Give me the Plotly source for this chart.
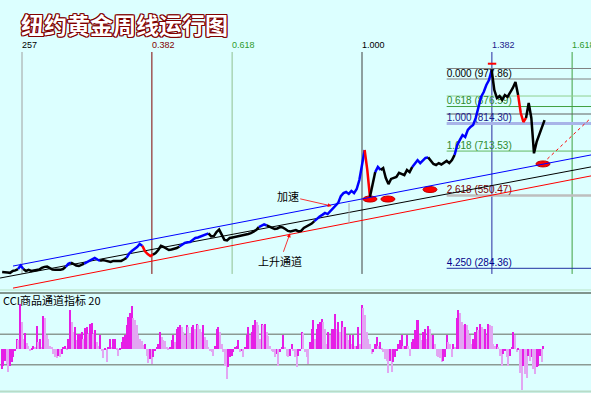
import plotly.graph_objects as go

# ---------------- data ----------------
# weekly gold price (USD), one value every 2 weeks, week index = 2*i
price_close = [
    269, 269, 267, 266, 273, 275, 280, 293, 280, 273,
    277, 273, 275, 277, 278, 284, 288, 289, 282, 278,
    277, 277, 277, 280, 288, 299, 304, 297, 293, 291,
    295, 300, 306, 311, 317, 321, 315, 310, 313, 311,
    308, 306, 310, 310, 311, 310, 315, 321, 337, 346,
    352, 361, 372, 365, 345, 335, 328, 333, 339, 350,
    365, 361, 355, 350, 352, 354, 357, 363, 370, 376,
    378, 379, 387, 394, 396, 400, 405, 409, 411, 400,
    401, 416, 425, 403, 387, 385, 394, 396, 398, 400,
    401, 403, 405, 409, 412, 418, 423, 434, 440, 444,
    440, 434, 431, 427, 429, 434, 433, 427, 420, 418,
    420, 423, 418, 420, 431, 436, 440, 447, 456, 466,
    473, 479, 486, 482, 493, 504, 515, 523, 548, 559,
    563, 556, 567, 559, 574, 607, 662, 717, 644, 545,
    596, 636, 655, 644, 651, 614, 592, 611, 614, 618,
    633, 629, 625, 644, 636, 655, 669, 680, 669, 677,
    688, 690, 677, 666, 662, 669, 664, 669, 677, 669,
    680, 699, 736, 754, 772, 765, 791, 802, 809, 835,
    871, 912, 930, 956, 974, 1011, 938, 908, 915, 901,
    919, 912, 927, 945, 967, 919, 853, 820, 835, 890,
    835, 705, 747, 776, 798, 827,
]
peak_high_week = [370.3]
peak_high_price = [1034]

# CCI(20) values
cci_values = [
    -128, -106, -73, -95, -145, -106, -84, -51, -7, 70,
    59, 297, 180, 70, 110, 44, 22, -7, 9, 26,
    15, 154, 48, 70, 15, 218, 202, 92, 70, 26,
    15, -29, -51, -57, -40, -51, -29, 15, 26, 4,
    70, 257, 180, 114, 147, 59, 103, 103, 114, 70,
    141, 147, 103, 163, 174, 103, 125, 48, 26, 92,
    -7, -57, 4, -79, 15, 70, 15, 70, 70, 4,
    -40, 4, 48, 81, 92, 158, 213, 235, 284, 202,
    191, 158, 92, 70, 53, 31, 37, -40, -88, -62,
    -95, -51, -7, 15, 37, 114, 81, 59, 53, 15,
    4, 15, 59, 92, 48, 136, 147, 158, 147, 114,
    92, 158, 147, 103, 147, 158, 136, 169, 158, 136,
    114, 158, 81, 59, 15, -7, -18, -40, 26, 136,
    147, 114, 37, -18, -106, -189, -117, -51, -40, -18,
    15, 26, 59, -18, -7, -51, 15, 92, 147, 92,
    114, 158, 191, 180, 158, 70, 163, 158, 169, 114,
    88, 26, -7, -18, -51, -29, -106, -18, 15, 97,
    15, -40, -51, -40, 37, -7, -51, -117, -40, -7,
    114, 110, -18, -51, -95, 48, 136, 191, 70, 136,
    163, 180, 198, 176, 136, 37, 114, 92, 136, 136,
    229, 136, 180, 114, 185, 147, 147, 92, 59, 97,
    37, 92, 26, 26, 147, 37, 290, 268, 224, 114,
    70, 37, -29, -18, 37, 81, 26, 48, 4, -18,
    -62, -73, -150, -73, -145, -84, -51, -7, 37, 59,
    92, 22, 26, 92, 26, -40, 48, 70, 125, 191,
    191, 92, 59, 114, 136, 70, 154, 136, 92, 97,
    37, -40, -51, -57, -84, -73, -51, 92, 48, 37,
    -51, 37, 15, 202, 257, 235, 180, 158, 169, 158,
    125, 92, 37, 70, 114, 147, 125, 169, 147, 136,
    136, 92, 163, 158, 154, 37, 26, 37, 15, -40,
    -106, -29, -7, -51, -106, -40, 15, 114, 92, -18,
    4, -150, -266, -106, -161, -183, -40, -73, -51, -128,
    -161, -117, -106, -40, -84, 26,
]
cci_levels = [100, -100]

# Fibonacci time zones
time_zone_start = 15
time_zone_weeks = 257
time_ratios = [0.0, 0.382, 0.618, 1.0, 1.382, 1.618]
time_labels = ["257", "0.382", "0.618", "1.000", "1.382", "1.618"]

# Fibonacci retracement
fib_start_week = 336
fib_high = 977.86
fib_low = 814.30
fib_line_ratios = [-0.236, 0.0, 0.382, 0.618, 0.786, 1.0, 1.618, 2.618, 4.25]
fib_label_ratios = [0.0, 0.618, 1.0, 1.618, 2.618, 4.25]
fib_label_texts = ["0.000 (977.86)", "0.618 (876.59)", "1.000 (814.30)",
                   "1.618 (713.53)", "2.618 (550.47)", "4.250 (284.36)"]

# channel lines: (weeks, prices)
blue_channel = ([8.2, 445.1], [291, 699])
black_channel = ([-1.6, 445.1], [247, 655])
red_channel = ([8.2, 445.1], [210, 622])
red_dotted = ([408.8, 445.1], [669, 835])
gray_tick = ([262.2, 262.2], [449, 522])

# support marks (week, price)
mark_weeks = [278, 291.6, 323.4, 408.8]
mark_prices = [537, 537, 572, 666]

title_text = "纽约黄金周线运行图"
cci_title = "CCI商品通道指标 20"

# ---------------- style ----------------
W, H = 591, 393
BG = "#DCFFFF"
CJK = "Noto Sans CJK SC"
LAT = "Liberation Sans"

def py(px):
    return 1 - px / H

fig = go.Figure()

# fib labels (drawn first so the price covers them)
fib_label_colors = ["#000000", "#2E8B2E", "#1A1A8C", "#2E8B2E", "#800000", "#00008B"]
for r, t, c in zip(fib_label_ratios, fib_label_texts, fib_label_colors):
    lvl = fib_high - r * (fib_high - fib_low)
    fig.add_trace(go.Scatter(x=[fib_start_week], y=[lvl], mode="text", text=[t],
                             textposition="top right",
                             textfont=dict(family=LAT, size=10, color=c),
                             hoverinfo="skip", xaxis="x", yaxis="y"))

# channel lines
for (xs, ys), col, dash in [(blue_channel, "#0000FF", "solid"),
                            (black_channel, "#000000", "solid"),
                            (red_channel, "#FF0000", "solid"),
                            (red_dotted, "#FF0000", "dot"),
                            (gray_tick, "#A8A8A8", "solid")]:
    fig.add_trace(go.Scatter(x=xs, y=ys, mode="lines",
                             line=dict(color=col, width=1, dash=dash),
                             hoverinfo="skip", xaxis="x", yaxis="y"))

# price segments coloured
segments = [(0, 6, "k"), (6, 8, "b"), (8, 24, "k"), (24, 26, "b"), (26, 31, "k"),
            (31, 37, "b"), (37, 47, "k"), (47, 53, "b"), (53, 57, "r"), (57, 67, "k"),
            (67, 78, "b"), (78, 97, "k"), (97, 100, "b"), (100, 118, "k"),
            (118, 137, "b"), (137, 139, "r"), (139, 141, "k"), (141, 143, "b"),
            (143, 155, "k"), (155, 161, "b"), (161, 171, "k"), (171, 185, "b"),
            (185, 195, "k"), (195, 198, "r"), (198, len(price_close) - 1, "k")]
cmap = {"k": "#000000", "b": "#0000FF", "r": "#FF0000"}
weeks = [2 * i for i in range(len(price_close))]
for s, e, c in segments:
    fig.add_trace(go.Scatter(x=weeks[s:e + 1], y=price_close[s:e + 1], mode="lines",
                             line=dict(color=cmap[c], width=2.5),
                             hoverinfo="skip", xaxis="x", yaxis="y"))

fig.add_trace(go.Scatter(x=peak_high_week, y=peak_high_price, mode="markers",
                         marker=dict(symbol="line-ew", size=6,
                                     line=dict(color="#FF0000", width=2)),
                         hoverinfo="skip", xaxis="x", yaxis="y"))

# CCI bars
cci_x = list(range(len(cci_values)))
cci_colors = []
for i, v in enumerate(cci_values):
    prev = cci_values[i - 1] if i > 0 else v
    cci_colors.append("#E61EE6" if v >= prev else "#E2A6F2")
fig.add_trace(go.Bar(x=cci_x, y=cci_values, width=0.6,
                     marker=dict(color=cci_colors, line=dict(width=0)),
                     hoverinfo="skip", xaxis="x2", yaxis="y2"))

shapes = []
# time zone vertical lines
tz_colors = ["#A0A0A0", "#800000", "#90C090", "#404040", "#2828A0", "#40A040"]
tz_text_colors = ["#000000", "#800000", "#2E9A2E", "#000000", "#1A1A8C", "#2E9A2E"]
annotations = []
for r, lab, lc, tc in zip(time_ratios, time_labels, tz_colors, tz_text_colors):
    wx = time_zone_start + r * time_zone_weeks
    shapes.append(dict(type="line", xref="x", yref="y", x0=wx, x1=wx, y0=262, y1=1077,
                       line=dict(color=lc, width=1), layer="below"))
    annotations.append(dict(x=wx, y=py(45), xref="x", yref="paper", text=lab,
                            showarrow=False, xanchor="left", yanchor="middle", xshift=-2,
                            font=dict(family=LAT, size=9, color=tc)))

# retracement horizontal lines
fib_line_styles = {-0.236: ("#808080", 1), 0.0: ("#808080", 1), 0.382: ("#90D090", 1),
                   0.618: ("#40A040", 1), 0.786: ("#606060", 1), 1.0: ("#A8B4E8", 3),
                   1.618: ("#60B860", 1), 2.618: ("#BEBEBE", 2.5), 4.25: ("#2030A0", 1)}
for r in fib_line_ratios:
    lvl = fib_high - r * (fib_high - fib_low)
    c, wd = fib_line_styles[r]
    shapes.append(dict(type="line", xref="x", yref="y", x0=fib_start_week, x1=446,
                       y0=lvl, y1=lvl, line=dict(color=c, width=wd), layer="below"))

# support ellipses
for mw, mp in zip(mark_weeks, mark_prices):
    shapes.append(dict(type="circle", xref="x", yref="y", xsizemode="pixel",
                       ysizemode="pixel", xanchor=mw, yanchor=mp,
                       x0=-7, x1=7, y0=-3, y1=3, fillcolor="#FF0000",
                       line=dict(color="#C00000", width=1), layer="below"))

# CCI reference lines
for lv in cci_levels:
    shapes.append(dict(type="line", xref="paper", yref="y2", x0=0, x1=1, y0=lv, y1=lv,
                       line=dict(color="#8C9A94", width=1.5), layer="below"))

# panel separators
shapes.append(dict(type="line", xref="paper", yref="paper", x0=0, x1=1,
                   y0=py(290), y1=py(290), line=dict(color="#C4ECD8", width=1.5)))
shapes.append(dict(type="line", xref="paper", yref="paper", x0=0, x1=1,
                   y0=py(293), y1=py(293), line=dict(color="#80948C", width=2)))
shapes.append(dict(type="line", xref="paper", yref="paper", x0=0, x1=1,
                   y0=py(391.5), y1=py(391.5), line=dict(color="#B8DCC8", width=2)))

# title with outline
oc = "#800000"
shadow = ", ".join(f"{a}px {b}px 0 {oc}" for a, b in
                   [(1, 1), (-1, -1), (1, -1), (-1, 1), (0, 1), (1, 0), (0, -1), (-1, 0)])
annotations.append(dict(x=124 / W, y=py(24), xref="paper", yref="paper", text=title_text,
                        showarrow=False, xanchor="center", yanchor="middle",
                        font=dict(family=CJK, size=23, color="#FFFFFF", weight="bold",
                                  shadow=shadow)))
annotations.append(dict(x=1 / W, y=py(299.5), xref="paper", yref="paper", text=cci_title,
                        showarrow=False, xanchor="left", yanchor="middle",
                        font=dict(family=CJK, size=11, color="#000000")))
annotations.append(dict(x=249.1, y=511.5, xref="x", yref="y", text="加速",
                        showarrow=True, ax=-44, ay=-10, arrowcolor="#FF0000",
                        arrowwidth=0.8, arrowhead=2, arrowsize=1, standoff=0,
                        font=dict(family=CJK, size=11, color="#000000")))
annotations.append(dict(x=217.6, y=411.3, xref="x", yref="y", text="上升通道",
                        showarrow=True, ax=-10, ay=28, arrowcolor="#FF0000",
                        arrowwidth=0.8, arrowhead=2, arrowsize=1, standoff=0,
                        font=dict(family=CJK, size=11, color="#000000")))

fig.update_layout(
    width=W, height=H, margin=dict(l=0, r=0, t=0, b=0),
    paper_bgcolor=BG, plot_bgcolor=BG, showlegend=False, bargap=0,
    xaxis=dict(domain=[0, 1], range=[-1.63, 445.1], visible=False, fixedrange=True),
    yaxis=dict(domain=[py(289), 1], range=[206.74, 1267.95], visible=False),
    xaxis2=dict(domain=[0, 1], range=[-1, 353.5], visible=False, anchor="y2"),
    yaxis2=dict(domain=[py(391), py(295)], range=[-270.4, 355], visible=False, anchor="x2"),
    shapes=shapes, annotations=annotations,
)

fig.write_html("out.html", config={"displayModeBar": False},
               post_script="document.body.style.margin='0';document.body.style.padding='0';")
